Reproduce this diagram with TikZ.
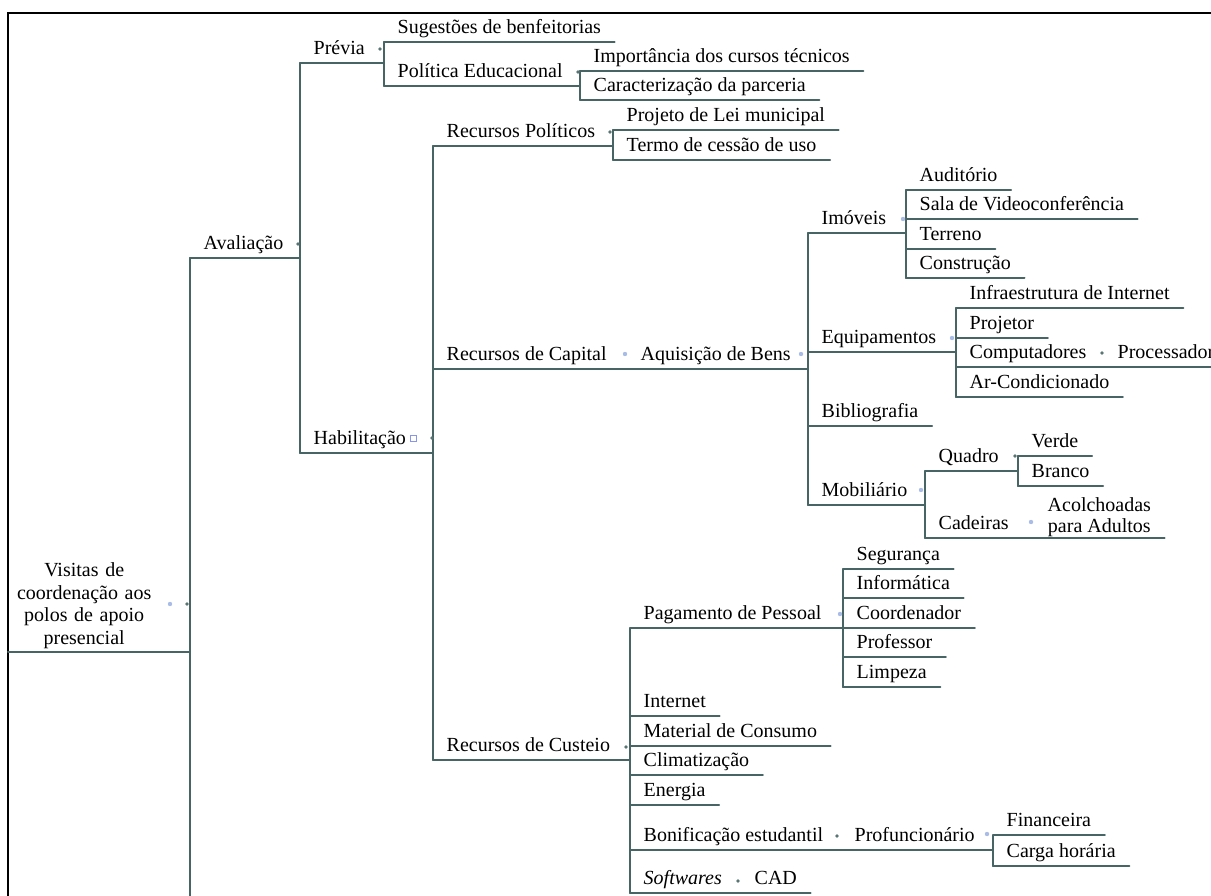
\documentclass[tikz,border=0pt]{standalone}
\usepackage{fontspec}
\setmainfont{Liberation Serif}
\usepackage{tikz}
\definecolor{corramo}{HTML}{476565}
\definecolor{marcaclara}{HTML}{A9BCE6}
\definecolor{marcaesc}{HTML}{5A7474}
\newcommand{\mapa}{\fontsize{20}{24}\selectfont}

\begin{document}
\begin{tikzpicture}[x=1pt,y=-1pt,
    topico/.style={anchor=south west,inner xsep=13.5pt,inner ysep=0pt,text height=14pt,text depth=8pt,font=\mapa},
    ramo/.style={draw=corramo,line width=2pt,line cap=round}]
    \useasboundingbox (0,0) rectangle (1211,896);
    \clip (0,0) rectangle (1211,896);
    %moldura
    \draw [line width=2pt] (8,905) -- (8,13) -- (1220,13);
    %raiz
    \node [anchor=south west,inner xsep=6pt,inner ysep=3pt,text width=140pt,align=center,
           font=\fontsize{20}{22.7}\selectfont] (raiz) at (8,652)
           {Visitas de\\coordenação aos\\polos de apoio\\presencial};
    \coordinate (corte) at (190,905);
    %avaliacao
    \node [topico] (ava) at (190,258) {Avaliação};
    \node [topico] (pre) at (300,63) {Prévia};
    \node [topico] (sug) at (384,42) {Sugestões de benfeitorias};
    \node [topico] (pol) at (384,86) {Política Educacional};
    \node [topico] (imp) at (580,71) {Importância dos cursos técnicos};
    \node [topico] (car) at (580,100) {Caracterização da parceria};
    %habilitacao
    \node [topico] (hab) at (300,453) {Habilitação};
    \node [topico] (rpo) at (433,146) {Recursos Políticos};
    \node [topico] (pjl) at (613,130) {Projeto de Lei municipal};
    \node [topico] (ter) at (613,160) {Termo de cessão de uso};
    %capital
    \node [topico] (rca) at (433,369) {Recursos de Capital};
    \node [topico] (aqb) at (627,369) {Aquisição de Bens};
    \node [topico] (imo) at (808,233) {Imóveis};
    \node [topico] (aud) at (906,190) {Auditório};
    \node [topico] (sal) at (906,219) {Sala de Videoconferência};
    \node [topico] (trn) at (906,249) {Terreno};
    \node [topico] (con) at (906,278) {Construção};
    \node [topico] (equ) at (808,352) {Equipamentos};
    \node [topico] (inf) at (956,308) {Infraestrutura de Internet};
    \node [topico] (prj) at (956,338) {Projetor};
    \node [topico] (cmp) at (956,367) {Computadores};
    \node [topico] (prc) at (1104,367) {Processadores};
    \node [topico] (arc) at (956,397) {Ar-Condicionado};
    \node [topico] (bib) at (808,426) {Bibliografia};
    \node [topico] (mob) at (808,505) {Mobiliário};
    \node [topico] (qua) at (925,471) {Quadro};
    \node [topico] (ver) at (1018,456) {Verde};
    \node [topico] (bra) at (1018,486) {Branco};
    \node [topico] (cad) at (925,538) {Cadeiras};
    \node [anchor=base west,inner xsep=13.5pt,align=center,font=\fontsize{20}{21}\selectfont]
          (aco) at (1034,532) {Acolchoadas\\para Adultos};
    %custeio
    \node [topico] (rcu) at (433,760) {Recursos de Custeio};
    \node [topico] (pag) at (630,628) {Pagamento de Pessoal};
    \node [topico] (seg) at (843,569) {Segurança};
    \node [topico] (ifm) at (843,598) {Informática};
    \node [topico] (coo) at (843,628) {Coordenador};
    \node [topico] (pro) at (843,657) {Professor};
    \node [topico] (lim) at (843,687) {Limpeza};
    \node [topico] (int) at (630,716) {Internet};
    \node [topico] (mat) at (630,746) {Material de Consumo};
    \node [topico] (cli) at (630,775) {Climatização};
    \node [topico] (ene) at (630,805) {Energia};
    \node [topico] (bon) at (630,850) {Bonificação estudantil};
    \node [topico] (pfu) at (841,850) {Profuncionário};
    \node [topico] (fin) at (993,835) {Financeira};
    \node [topico] (cgh) at (993,866) {Carga horária};
    \node [topico] (sof) at (630,893) {\textit{Softwares}};
    \node [topico] (cadn) at (741,893) {CAD};

    %sublinhados
    \foreach \n in {sug,imp,car,pjl,ter,aud,sal,trn,con,inf,prj,prc,arc,bib,ver,bra,
                    seg,ifm,coo,pro,lim,int,mat,cli,ene,fin,cgh,cadn}
        \draw [ramo] (\n.south west) -- (\n.south east);
    \foreach \p/\c in {raiz/ava,ava/pre,pre/sug,pol/imp,hab/rpo,rpo/pjl,rca/aqb,aqb/imo,
                       imo/aud,equ/inf,cmp/prc,mob/qua,qua/ver,rcu/pag,pag/seg,bon/pfu,
                       pfu/fin,sof/cadn}
        \draw [ramo] (\p.south west) -- (\p.south west -| \c.south west);
    \draw [ramo] (cad.south west) -- (cad.south west -| aco.east);
    %chaves
    \foreach \a/\b in {ava/corte,pre/hab,sug/pol,imp/car,rpo/rcu,pjl/ter,imo/mob,aud/con,
                       inf/arc,qua/cad,ver/bra,pag/sof,seg/lim,fin/cgh}
        \draw [ramo] (\a.south west) -- (\b.south west);

    %marcas
    \foreach \x/\y in {187/604,298/244,380/49,578/72,610/132,432/438,1102/353,1015/456,
                       626/747,837/836,738/881}
        \fill [marcaesc] (\x,\y) circle (1.8);
    \foreach \x/\y in {170/604,625/354,801/354,903/219,952/338,921/490,1031/522,840/614,987/834}
        \fill [marcaclara] (\x,\y) circle (2.2);
    \draw [marcaclara!80!blue,line width=1pt] (410,435) rectangle (416,441);
\end{tikzpicture}
\end{document}
